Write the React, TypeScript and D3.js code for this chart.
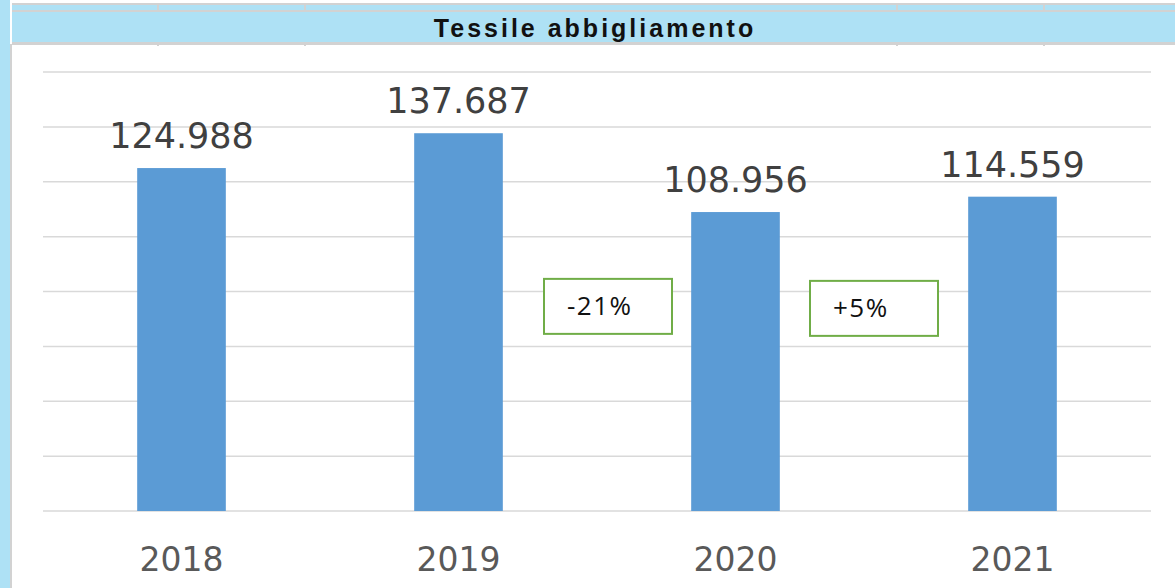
import { useMemo } from "react";
import * as d3 from "d3";

const WIDTH = 1175;
const HEIGHT = 588;
const MARGIN = { top: 72, right: 24, bottom: 77, left: 43 };

const TITLE = "Tessile abbigliamento";
const years = ["2018", "2019", "2020", "2021"];
const values = [124.988, 137.687, 108.956, 114.559];
const valueLabels = ["124.988", "137.687", "108.956", "114.559"];
const yTicks = [0, 20, 40, 60, 80, 100, 120, 140, 160];

// change boxes sit between two years
const changeLabels = ["-21%", "+5%"];
const changeFrom = ["2019", "2020"];
const changeTo = ["2020", "2021"];

const BAR_COLOR = "#5b9bd5";
const GRID_COLOR = "#d9d9d9";
const BAND_COLOR = "#aee1f5";
const BORDER_COLOR = "#d2d2d2";

export default function App() {
  const boundsWidth = WIDTH - MARGIN.left - MARGIN.right;
  const boundsHeight = HEIGHT - MARGIN.top - MARGIN.bottom;

  const xScale = useMemo(
    () => d3.scaleBand().domain(years).range([0, boundsWidth]).paddingInner(0.68).paddingOuter(0.34),
    [boundsWidth]
  );
  const yScale = useMemo(
    () => d3.scaleLinear().domain([0, 160]).range([boundsHeight, 0]),
    [boundsHeight]
  );

  const font = "'DejaVu Sans', sans-serif";

  return (
    <div style={{ position: "absolute", top: 0, left: 0 }}>
      <svg width={WIDTH} height={HEIGHT} style={{ display: "block", background: "white" }}>
        {/* spreadsheet frame */}
        <rect x={0} y={0} width={10} height={HEIGHT} fill={BAND_COLOR} />
        <rect x={10} y={44} width={2} height={HEIGHT - 44} fill={BORDER_COLOR} />
        <rect x={12} y={3} width={WIDTH - 12} height={2} fill={BORDER_COLOR} />
        <rect x={12} y={5} width={WIDTH - 12} height={5} fill={BAND_COLOR} />
        <rect x={12} y={10} width={WIDTH - 12} height={2} fill={BORDER_COLOR} />
        <rect x={12} y={12} width={WIDTH - 12} height={30} fill={BAND_COLOR} />
        <rect x={12} y={42} width={WIDTH - 12} height={3} fill={BORDER_COLOR} />
        {[158, 305, 897, 1044].map((x) => (
          <g key={x}>
            <rect x={x - 1} y={5} width={2} height={5} fill={BORDER_COLOR} />
            <rect x={x - 1} y={42} width={2} height={4} fill={BORDER_COLOR} />
          </g>
        ))}
        <text
          x={595}
          y={37}
          textAnchor="middle"
          fontFamily="'Liberation Sans', Arial, sans-serif"
          fontWeight="bold"
          fontSize={25}
          letterSpacing={3}
          fill="#111"
        >
          {TITLE}
        </text>

        <g transform={`translate(${MARGIN.left},${MARGIN.top})`}>
          {yTicks.map((t) => (
            <line
              key={t}
              x1={0}
              x2={boundsWidth}
              y1={yScale(t)}
              y2={yScale(t)}
              stroke={GRID_COLOR}
              strokeWidth={1.5}
            />
          ))}

          {years.map((yr, i) => {
            const x = xScale(yr) ?? 0;
            const yTop = yScale(values[i]);
            return (
              <g key={yr}>
                <rect
                  x={x}
                  y={yTop}
                  width={xScale.bandwidth()}
                  height={boundsHeight - yTop}
                  fill={BAR_COLOR}
                />
                <text
                  x={x + xScale.bandwidth() / 2}
                  y={yTop - 20}
                  textAnchor="middle"
                  fontFamily={font}
                  fontSize={35}
                  fill="#404040"
                >
                  {valueLabels[i]}
                </text>
                <text
                  x={x + xScale.bandwidth() / 2}
                  y={boundsHeight + 60}
                  textAnchor="middle"
                  fontFamily={font}
                  fontSize={33}
                  fill="#595959"
                >
                  {yr}
                </text>
              </g>
            );
          })}

          {changeLabels.map((lbl, i) => {
            const a = (xScale(changeFrom[i]) ?? 0) + xScale.bandwidth() / 2;
            const b = (xScale(changeTo[i]) ?? 0) + xScale.bandwidth() / 2;
            const mid = (a + b) / 2 + (i === 0 ? 11 : 0);
            const top = yScale(84.6) + i * 2;
            return (
              <g key={lbl}>
                <rect
                  x={mid - 64}
                  y={top}
                  width={128}
                  height={55}
                  fill="white"
                  stroke="#70ad47"
                  strokeWidth={2}
                />
                <text
                  x={mid - 41}
                  y={top + 36}
                  fontFamily="'Open Sans', sans-serif"
                  fontSize={26}
                  letterSpacing={1.5}
                  fill="#111"
                >
                  {lbl}
                </text>
              </g>
            );
          })}
        </g>
      </svg>
    </div>
  );
}
